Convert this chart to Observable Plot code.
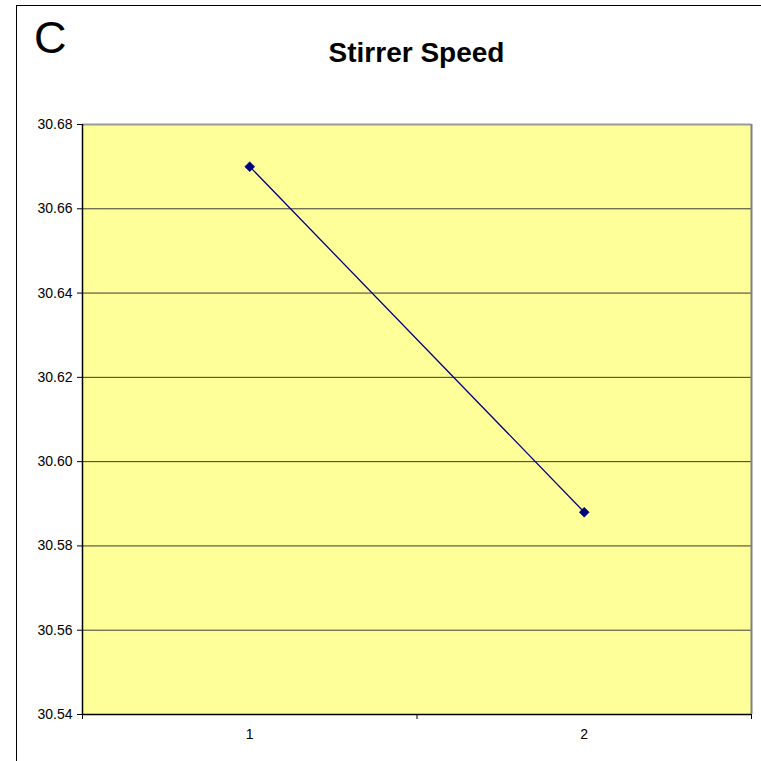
<!DOCTYPE html>
<html>
<head>
<meta charset="utf-8">
<script src="https://cdn.jsdelivr.net/npm/d3@7"></script>
<script src="https://cdn.jsdelivr.net/npm/@observablehq/plot@0.6"></script>
<style>
  html, body { margin: 0; padding: 0; overflow: hidden; background: #fff; width: 761px; height: 761px; }
  #wrap { position: relative; width: 761px; height: 761px; overflow: hidden; font-family: "Liberation Sans", Arial, sans-serif; }
  #frame { position: absolute; left: 16px; top: 5px; width: 900px; height: 900px; border: 1.5px solid #000; box-sizing: border-box; }
  #letter { position: absolute; left: 34px; top: 15px; font-size: 45px; line-height: 1; color: #000; }
  #title { position: absolute; left: 82px; width: 669px; top: 39px; text-align: center; font-size: 28px; font-weight: bold; line-height: 1; color: #000; }
  #chart { position: absolute; left: 0; top: 0; }
  #chart svg text { font-size: 14px; }
</style>
</head>
<body>
<div id="wrap">
  <div id="chart"></div>
  <div id="frame"></div>
  <div id="letter">C</div>
  <div id="title">Stirrer Speed</div>
</div>
<script>
const categories = [1, 2];
const values = [30.670, 30.588];
const yTicks = [30.54, 30.56, 30.58, 30.60, 30.62, 30.64, 30.66, 30.68];
const xDomain = [0.5, 2.5];
const xBoundaries = [0.5, 1.5, 2.5];

const data = categories.map((c, i) => ({x: c, y: values[i]}));

const diamond = {
  draw(ctx, size) {
    const r = Math.sqrt(size / 2);
    ctx.moveTo(0, -r);
    ctx.lineTo(r, 0);
    ctx.lineTo(0, r);
    ctx.lineTo(-r, 0);
    ctx.closePath();
  }
};

const inner = yTicks.slice(1, -1);

const chart = Plot.plot({
  width: 761,
  height: 761,
  marginTop: 124,
  marginLeft: 82,
  marginRight: 10,
  marginBottom: 47,
  style: {fontFamily: "'Liberation Sans', Arial, sans-serif", fontSize: "14px", background: "transparent", color: "#000"},
  x: {domain: xDomain, axis: null},
  y: {domain: [yTicks[0], yTicks[yTicks.length - 1]], axis: null},
  marks: [
    Plot.frame({fill: "#FFFF99", stroke: "none"}),
    Plot.ruleY(inner, {stroke: "#3a3a3a", strokeWidth: 1}),
    Plot.ruleY([yTicks[yTicks.length - 1]], {stroke: "#9a9a9a", strokeWidth: 2}),
    Plot.ruleX([xDomain[1]], {stroke: "#808080", strokeWidth: 2}),
    Plot.ruleX([xDomain[0]], {stroke: "#000", strokeWidth: 1.5}),
    Plot.ruleY([yTicks[0]], {stroke: "#000", strokeWidth: 1.5}),
    Plot.axisY({ticks: yTicks, tickFormat: d => d.toFixed(2), tickSize: 5, tickPadding: 5, fontSize: 14, label: null, stroke: "#000"}),
    Plot.axisX({ticks: xBoundaries, tickFormat: () => "", tickSize: 5, label: null}),
    Plot.axisX({ticks: categories, tickFormat: d => String(d), tickSize: 0, tickPadding: 15, fontSize: 14, label: null}),
    Plot.line(data, {x: "x", y: "y", stroke: "#000080", strokeWidth: 1.3}),
    Plot.dot(data, {x: "x", y: "y", symbol: diamond, r: 4, fill: "#000080", stroke: "#000080", strokeWidth: 0.5})
  ]
});
document.getElementById("chart").appendChild(chart);
</script>
</body>
</html>
